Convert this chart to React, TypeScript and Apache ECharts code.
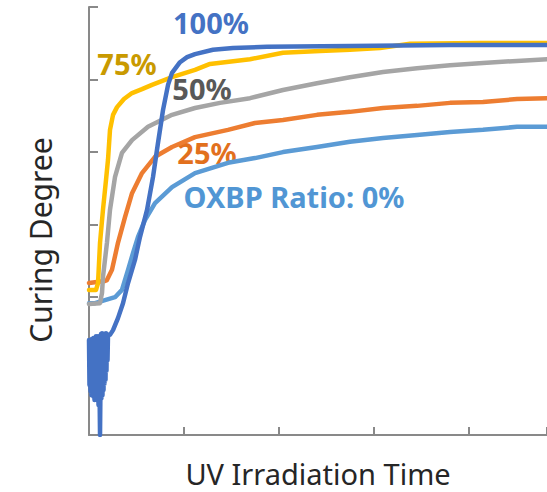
import React, { useEffect, useRef } from "react";
import * as echarts from "echarts";

// Series labels (OXBP ratio)
const seriesNames = ["0%", "25%", "50%", "75%", "100%"];
const seriesColors = ["#5B9BD5", "#ED7D31", "#A5A5A5", "#FFC000", "#4472C4"];

// 0 %
const r0X = [0, 0.063, 0.168, 0.274, 0.347, 0.411, 0.463, 0.516, 0.589, 0.695, 0.874, 1.116, 1.463, 1.747, 2.042, 2.4, 2.747, 3.095, 3.453, 3.8, 4.147, 4.505, 4.821];
const r0Y = [30.8, 30.8, 31.5, 32.2, 33.9, 38.6, 42.5, 46.3, 50.2, 54.2, 57.9, 61.2, 63.6, 64.7, 66.1, 67.3, 68.5, 69.4, 70.1, 70.8, 71.3, 72.0, 72.0];

// 25 %
const r25X = [0, 0.168, 0.189, 0.242, 0.305, 0.379, 0.453, 0.558, 0.695, 0.874, 1.116, 1.463, 1.747, 2.042, 2.4, 2.747, 3.095, 3.453, 3.8, 4.147, 4.505, 4.821];
const r25Y = [35.5, 36.0, 36.2, 38.6, 44.9, 50.9, 56.5, 61.2, 65.0, 67.3, 69.6, 71.3, 72.9, 73.6, 74.8, 75.5, 76.4, 76.9, 77.6, 77.8, 78.5, 78.7];

// 50 %
const r50X = [0, 0.116, 0.137, 0.147, 0.189, 0.221, 0.274, 0.347, 0.453, 0.621, 0.874, 1.116, 1.379, 1.695, 2.042, 2.4, 2.747, 3.095, 3.453, 3.8, 4.147, 4.505, 4.821];
const r50Y = [30.6, 30.8, 33.2, 36.9, 44.9, 52.6, 60.3, 65.9, 68.9, 72.0, 74.8, 76.4, 77.6, 78.7, 80.6, 82.2, 83.6, 84.8, 85.7, 86.4, 86.9, 87.4, 87.8];

// 75 %
const r75X = [0, 0.074, 0.095, 0.116, 0.147, 0.179, 0.2, 0.221, 0.253, 0.295, 0.368, 0.453, 0.558, 0.663, 0.874, 1.116, 1.274, 1.695, 2.042, 2.432, 2.747, 3.063, 3.379, 4.116, 4.821];
const r75Y = [33.9, 33.9, 35.5, 44.9, 52.6, 59.6, 64.3, 71.3, 74.8, 76.6, 78.5, 79.9, 80.8, 81.8, 83.6, 85.3, 86.7, 87.8, 89.3, 89.7, 90.0, 90.4, 91.4, 91.6, 91.6];

// 100 %
const r100X = [0, 0.005, 0.011, 0.016, 0.021, 0.026, 0.032, 0.037, 0.042, 0.047, 0.053, 0.058, 0.063, 0.068, 0.074, 0.079, 0.084, 0.089, 0.095, 0.1, 0.105, 0.116, 0.126, 0.131, 0.137, 0.142, 0.147, 0.153, 0.158, 0.163, 0.168, 0.174, 0.179, 0.184, 0.189, 0.195, 0.2, 0.221, 0.253, 0.305, 0.358, 0.411, 0.484, 0.537, 0.611, 0.674, 0.726, 0.779, 0.832, 0.874, 0.958, 1.032, 1.116, 1.305, 1.516, 1.874, 2.747, 3.8, 4.821];
const r100Y = [22.2, 11.7, 21.0, 10.2, 21.7, 9.3, 22.5, 10.5, 21.7, 9.0, 22.7, 8.2, 22.2, 8.6, 23.1, 8.2, 22.9, 9.0, 23.1, 7.0, 23.1, 0, 23.6, 8.6, 23.8, 9.3, 23.6, 10.5, 23.6, 12.0, 23.6, 12.9, 23.8, 15.0, 23.6, 17.5, 23.4, 23.4, 24.5, 27.3, 30.8, 35.5, 40.9, 46.3, 52.6, 60.3, 68.2, 75.9, 81.8, 84.6, 87.1, 88.3, 89.0, 90.0, 90.4, 90.7, 90.9, 91.1, 91.1];

const xsList = [r0X, r25X, r50X, r75X, r100X];
const ysList = [r0Y, r25Y, r50Y, r75Y, r100Y];

const xTitle = "UV Irradiation Time";
const yTitle = "Curing Degree";

export default function App() {
  const ref = useRef<HTMLDivElement>(null);
  useEffect(() => {
    if (!ref.current) return;
    const chart = echarts.init(ref.current, undefined, { renderer: "svg" });
    const axisColor = "#898989";
    const series = seriesNames.map((name, i) => ({
      name,
      type: "line",
      data: xsList[i].map((x, j) => [x, ysList[i][j]]),
      showSymbol: false,
      symbol: "none",
      lineStyle: { color: seriesColors[i], width: 4.5, join: "round", cap: "round" },
      z: 2 + i,
    }));
    chart.setOption({
      animation: false,
      grid: { left: 89, top: 7, right: 0, height: 428, containLabel: false },
      xAxis: {
        type: "value",
        min: 0,
        max: 4.821,
        interval: 1,
        axisLine: { show: true, lineStyle: { color: axisColor, width: 2 } },
        axisTick: { show: true, inside: true, length: 8, lineStyle: { color: axisColor, width: 2 } },
        axisLabel: { show: false },
        splitLine: { show: false },
      },
      yAxis: [
        {
          type: "value",
          min: 0,
          max: 100,
          axisLine: { show: true, lineStyle: { color: axisColor, width: 2 } },
          axisTick: { show: false },
          axisLabel: { show: false },
          splitLine: { show: false },
        },
        {
          type: "value",
          position: "left",
          inverse: true,
          min: 0,
          max: 5.91,
          interval: 1,
          axisLine: { show: false },
          axisTick: { show: true, inside: true, length: 9, lineStyle: { color: axisColor, width: 2 } },
          axisLabel: { show: false },
          splitLine: { show: false },
        },
      ],
      series,
      graphic: [
        {
          type: "text",
          x: 318,
          y: 473,
          style: { text: xTitle, font: '29px "Noto Sans"', fill: "#262626", align: "center", verticalAlign: "middle" },
        },
        {
          type: "text",
          x: 40,
          y: 240,
          rotation: Math.PI / 2,
          style: { text: yTitle, font: '30px "Noto Sans"', fill: "#262626", align: "center", verticalAlign: "middle" },
        },
        {
          type: "text",
          x: 211,
          y: 22,
          style: { text: "100%", font: 'bold 29px "Noto Sans"', fill: "#4472C4", align: "center", verticalAlign: "middle" },
        },
        {
          type: "text",
          x: 127,
          y: 63,
          style: { text: "75%", font: 'bold 29px "Noto Sans"', fill: "#C99A00", align: "center", verticalAlign: "middle" },
        },
        {
          type: "text",
          x: 202,
          y: 88,
          style: { text: "50%", font: 'bold 29px "Noto Sans"', fill: "#595959", align: "center", verticalAlign: "middle" },
        },
        {
          type: "text",
          x: 207,
          y: 152,
          style: { text: "25%", font: 'bold 29px "Noto Sans"', fill: "#E2701D", align: "center", verticalAlign: "middle" },
        },
        {
          type: "text",
          x: 294,
          y: 196,
          style: { text: "OXBP Ratio: 0%", font: 'bold 29px "Noto Sans"', fill: "#5196D4", align: "center", verticalAlign: "middle" },
        },
      ],
    });
    return () => chart.dispose();
  }, []);
  return (
    <div
      ref={ref}
      style={{ position: "fixed", left: 0, top: 0, width: 547, height: 492, background: "#fff" }}
    />
  );
}
